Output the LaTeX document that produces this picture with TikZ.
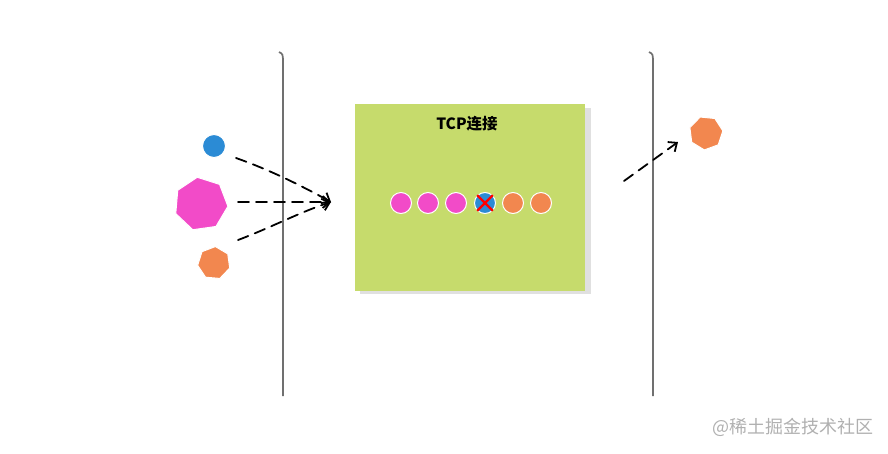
\documentclass[tikz,border=0pt]{standalone}
\usepackage{fontspec}
\newfontfamily\cjk{Noto Sans CJK SC}
\usetikzlibrary{shapes.geometric,arrows.meta}
\definecolor{cpink}{HTML}{F24BC8}
\definecolor{cblue}{HTML}{2B8BD5}
\definecolor{corange}{HTML}{F2874F}
\definecolor{cgreen}{HTML}{C6DB6C}
\definecolor{cwall}{HTML}{707070}
\definecolor{cmark}{HTML}{B0B0B0}
\tikzset{
  wall/.style={draw=cwall, line width=1.7pt},
  ball/.style={circle, draw=white, line width=1pt, minimum size=#1, inner sep=0pt},
  blob/.style={regular polygon, regular polygon sides=7, draw=white, line width=1pt, minimum size=#1, inner sep=0pt},
  flow/.style={dashed, dash pattern=on 11pt off 7pt, line width=1.8pt, line cap=round, -{Straight Barb[length=7pt,width=12pt]}},
}
\begin{document}
\begin{tikzpicture}[x=1pt,y=-1pt]
\useasboundingbox (0,0) rectangle (888,453);
% walls
\draw[wall] (279,52) .. controls (283,54) .. (283,64) -- (283,396);
\draw[wall] (649,52) .. controls (653,54) .. (653,64) -- (653,396);
% box with shadow
\fill[black!20, opacity=0.6] (360,108) rectangle (591,294);
\node[fill=cgreen, minimum width=230pt, minimum height=187pt, inner sep=0pt] (conn) at (470,197) {};
\node[font=\cjk\bfseries, scale=1.55] (title) at (467,124) {TCP连接};
% queue balls
\node[ball=21pt, fill=cpink] (q1) at (401,203) {};
\node[ball=21pt, fill=cpink] (q2) at (428,203) {};
\node[ball=21pt, fill=cpink] (q3) at (456,203) {};
\node[ball=21pt, fill=cblue] (q4) at (485,203) {};
\node[ball=21pt, fill=corange] (q5) at (513,203) {};
\node[ball=21pt, fill=corange] (q6) at (541,203) {};
\draw[red, line width=2.2pt] (q4.north west) -- (q4.south east);
\draw[red, line width=2.2pt] (q4.north east) -- (q4.south west);
% left packets
\node[ball=23pt, fill=cblue] (pblue) at (214,146) {};
\node[blob=54pt, fill=cpink, rotate=8] (ppink) at (201,204) {};
\node[blob=33pt, fill=corange, rotate=-5] (porange) at (214,263) {};
% right packet
\node[blob=34pt, fill=corange, rotate=20] (pout) at (706,133) {};
% arrows
\coordinate (tip) at (331,202);
\coordinate (s1) at (236,158);
\coordinate (s2) at (238,202);
\coordinate (s3) at (238,240);
\draw[flow] (s1) .. controls (270,170) and (300,185) .. (tip);
\draw[flow] (s2) -- (tip);
\draw[flow] (s3) .. controls (270,228) and (300,212) .. (tip);
\coordinate (o1) at (624,181);
\coordinate (o2) at (678,142);
\draw[flow] (o1) -- (o2);
% watermark
\node[font=\cjk, text=cmark, scale=1.8] (mark) at (793,427) {@稀土掘金技术社区};
\end{tikzpicture}
\end{document}
